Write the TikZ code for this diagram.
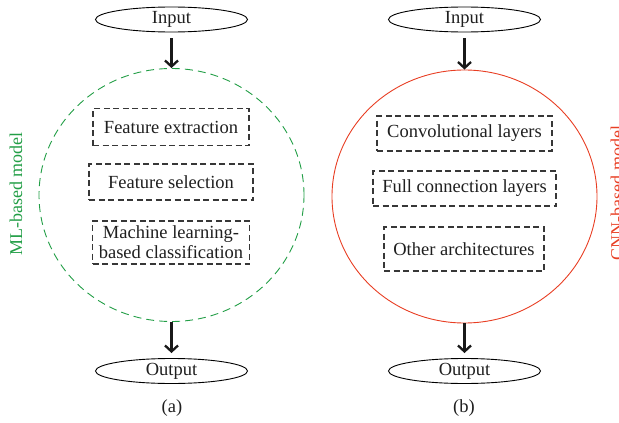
\documentclass[tikz,border=0pt]{standalone}
\usepackage{fontspec}
\setmainfont{Liberation Serif}
\usetikzlibrary{shapes.geometric,arrows.meta}
\definecolor{mlgreen}{RGB}{34,158,70}
\definecolor{cnnred}{RGB}{232,62,35}
\definecolor{boxgray}{RGB}{55,55,55}
\tikzset{
  txt/.style={font=\fontsize{18.5}{21}\selectfont, text=black!88},
  io/.style={ellipse, draw=black, line width=0.9pt, minimum width=152pt, minimum height=25pt, inner sep=0pt, txt},
  stepbox/.style={draw=boxgray, line width=1.1pt, dash pattern=on 6pt off 3.5pt, rectangle, inner sep=0pt, align=center, txt},
  model/.style={ellipse, minimum width=265pt, minimum height=253pt, inner sep=0pt},
  flow/.style={line width=2.3pt, draw=black!90, -{Straight Barb[length=6pt,width=13pt,line width=2.3pt]}},
  sidelabel/.style={rotate=90, font=\fontsize{18}{20}\selectfont},
  caption/.style={txt}
}
\begin{document}
\begin{tikzpicture}[x=1pt,y=-1pt]
\useasboundingbox (0,0) rectangle (619,423);

% (a) machine-learning pipeline
\node[io] (inA) at (171.5,19.5) {Input};
\node[model, draw=mlgreen, line width=0.9pt, dash pattern=on 8pt off 5pt] (mlA) at (171.5,195) {};
\node[stepbox, minimum width=156pt, minimum height=37pt] (fe) at (171,127) {Feature extraction};
\node[stepbox, minimum width=164pt, minimum height=36pt] (fs) at (171,182) {Feature selection};
\node[stepbox, minimum width=157pt, minimum height=43pt] (mlc) at (171,242.5) {Machine learning-\\[-1pt]based classification};
\node[io] (outA) at (171.5,371) {Output};
\node[sidelabel, text=mlgreen] (labA) at (16,194) {ML-based model};
\node[caption] (capA) at (172,408) {(a)};
\draw[flow] ([yshift=-6pt]inA.south) -- (mlA.north);
\draw[flow] (mlA.south) -- ([yshift=5pt]outA.north);

% (b) convolutional network
\node[io] (inB) at (464.5,19.5) {Input};
\node[model, draw=cnnred, line width=0.9pt] (cnnB) at (464.5,196.5) {};
\node[stepbox, minimum width=175pt, minimum height=35pt] (conv) at (464.5,133.5) {Convolutional layers};
\node[stepbox, minimum width=183pt, minimum height=35pt] (full) at (464.5,188.5) {Full connection layers};
\node[stepbox, minimum width=160pt, minimum height=44pt] (other) at (464,249) {Other architectures};
\node[io] (outB) at (464.5,371) {Output};
\node[sidelabel, text=cnnred] (labB) at (617,193) {CNN-based model};
\node[caption] (capB) at (464,408) {(b)};
\draw[flow] ([yshift=-6pt]inB.south) -- (cnnB.north);
\draw[flow] (cnnB.south) -- ([yshift=5pt]outB.north);
\end{tikzpicture}
\end{document}
